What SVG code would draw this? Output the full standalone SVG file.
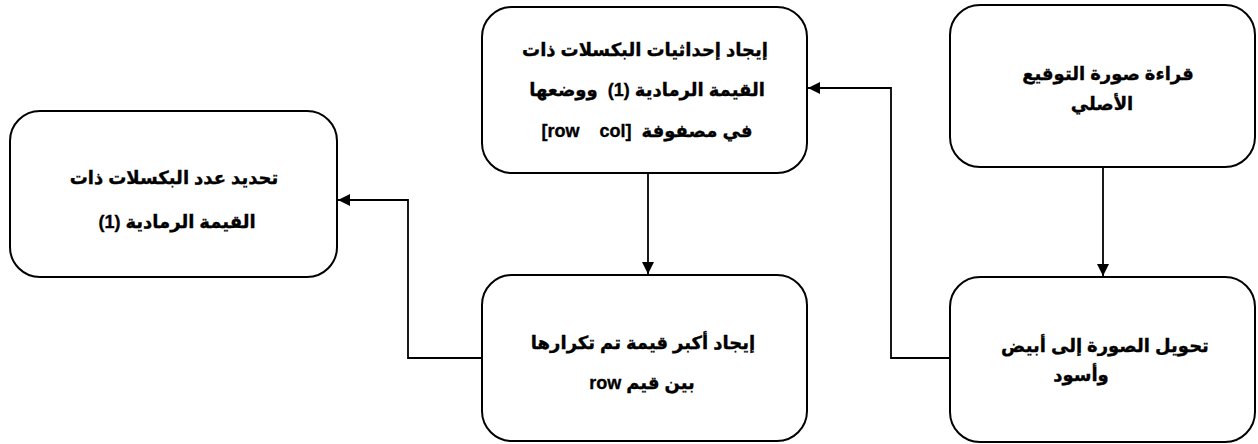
<svg xmlns="http://www.w3.org/2000/svg" width="1258" height="444" viewBox="0 0 1258 444">
<style>
.box{fill:#fff;stroke:#000;stroke-width:2}
.t{font-family:"Liberation Sans","DejaVu Sans",sans-serif;font-weight:bold;font-size:18px;fill:#000;stroke:#000;stroke-width:0.35;text-anchor:middle;direction:rtl;unicode-bidi:embed;white-space:pre}
.c{fill:none;stroke:#000;stroke-width:1.8}
</style>
<defs>
<marker id="ah" viewBox="0 0 12 12" refX="12" refY="6" markerWidth="12" markerHeight="12" markerUnits="userSpaceOnUse" orient="auto">
<path d="M0,0 L12,6 L0,12 Z" fill="#000"/>
</marker>
</defs>
<rect width="1258" height="444" fill="#fff"/>
<g id="connectors">
<path class="c" d="M1103,167 V276" marker-end="url(#ah)"/>
<path class="c" d="M950,358 H891 V88 H808" marker-end="url(#ah)"/>
<path class="c" d="M648,173 V274" marker-end="url(#ah)"/>
<path class="c" d="M482,358 H408 V200 H338" marker-end="url(#ah)"/>
</g>
<g id="node-read">
<rect class="box" x="950" y="5" width="305" height="162" rx="30"/>
<text class="t" x="1108" y="80">قراءة صورة التوقيع</text>
<text class="t" x="1102" y="110">الأصلي</text>
</g>
<g id="node-binarize">
<rect class="box" x="950" y="277" width="305" height="165" rx="30"/>
<text class="t" x="1105" y="352">تحويل الصورة إلى أبيض</text>
<text class="t" x="1081" y="381">وأسود</text>
</g>
<g id="node-coords">
<rect class="box" x="482" y="7" width="325" height="166" rx="30"/>
<text class="t" x="645" y="56">إيجاد إحداثيات البكسلات ذات</text>
<text class="t" x="647" y="96">القيمة الرمادية (1)  ووضعها</text>
<text class="t" x="647" y="137">في مصفوفة  [row    col]</text>
</g>
<g id="node-max">
<rect class="box" x="482" y="275" width="325" height="166" rx="30"/>
<text class="t" x="643" y="349">إيجاد أكبر قيمة تم تكرارها</text>
<text class="t" x="642" y="389">بين قيم row</text>
</g>
<g id="node-count">
<rect class="box" x="10" y="111" width="327" height="166" rx="30"/>
<text class="t" x="174" y="184">تحديد عدد البكسلات ذات</text>
<text class="t" x="177" y="228">القيمة الرمادية (1)</text>
</g>
</svg>
